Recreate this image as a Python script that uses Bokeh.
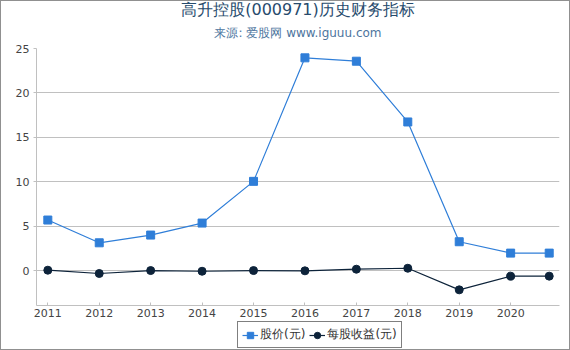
from bokeh.plotting import figure
from bokeh.models import FixedTicker, Legend, LegendItem, Title, Range1d
from bokeh.layouts import column
from bokeh.embed import file_html
from bokeh.resources import INLINE

# ---- data ----
years = [2011, 2012, 2013, 2014, 2015, 2016, 2017, 2018, 2019, 2020, 2020.75]
price = [5.71, 3.15, 4.02, 5.37, 10.06, 23.95, 23.57, 16.74, 3.27, 1.99, 1.99]
eps = [0.07, -0.30, 0.03, -0.05, 0.03, 0.00, 0.18, 0.29, -2.14, -0.60, -0.60]
x_ticks = [2011, 2012, 2013, 2014, 2015, 2016, 2017, 2018, 2019, 2020]
y_ticks = [0, 5, 10, 15, 20, 25]
title_text = "高升控股(000971)历史财务指标"
subtitle_text = "来源: 爱股网 www.iguuu.com"
series_names = ["股价(元)", "每股收益(元)"]

FONT = "DejaVu Sans"
blue = "#2f7ed8"
dark = "#0d233a"

p = figure(width=568, height=320, output_backend="svg", toolbar_location=None,
           x_range=Range1d(2010.78, 2020.95), y_range=Range1d(-3.9, 25),
           min_border_left=35, min_border_right=10, min_border_top=47, min_border_bottom=16)
p.title = None
p.outline_line_color = None
p.background_fill_color = "white"
p.border_fill_color = "white"

sub = Title(text=subtitle_text, align="center", text_font=FONT, text_font_size="12px",
            text_font_style="normal", text_color="#4d759e", standoff=18, text_line_height=1.0)
main = Title(text=title_text, align="center", text_font=FONT, text_font_size="16px",
             text_font_style="normal", text_color="#274b6d", standoff=-8, text_line_height=1.0)
p.add_layout(sub, "above")
p.add_layout(main, "above")

# axes
p.xaxis.ticker = FixedTicker(ticks=x_ticks)
p.yaxis.ticker = FixedTicker(ticks=y_ticks)
for ax in (p.xaxis[0], p.yaxis[0]):
    ax.major_label_text_font = FONT
    ax.major_label_text_font_size = "11px"
    ax.major_label_text_color = "#444444"
    ax.axis_line_color = "#C0C0C0"
    ax.major_tick_line_color = "#C0C0C0"
    ax.minor_tick_line_color = None
p.xaxis.major_tick_in = 3
p.xaxis.major_tick_out = 0
p.xaxis.major_label_standoff = 3
p.yaxis.major_tick_in = 0
p.yaxis.major_tick_out = 3
p.yaxis.major_label_standoff = 4

p.xgrid.grid_line_color = None
p.ygrid.grid_line_color = "#C0C0C0"
p.ygrid.ticker = FixedTicker(ticks=y_ticks)

l1 = p.line(years, price, line_color=blue, line_width=1.2)
m1 = p.scatter(years, price, marker="square", size=8, fill_color=blue, line_color=blue)
l2 = p.line(years, eps, line_color=dark, line_width=1.2)
m2 = p.scatter(years, eps, marker="circle", size=8, fill_color=dark, line_color=dark)

# legend strip below the chart (separate figure so the legend is not clipped);
# its renderers use the same data but lie outside this strip's ranges.
lf = figure(width=568, height=28, output_backend="svg", toolbar_location=None,
            x_range=Range1d(0, 1), y_range=Range1d(100, 101),
            x_axis_location=None, y_axis_location=None,
            min_border=0, min_border_left=0, min_border_right=0,
            min_border_top=0, min_border_bottom=0)
lf.title = None
lf.grid.visible = False
lf.outline_line_color = None
lf.border_fill_color = "white"
lf.background_fill_color = "white"
dl1 = lf.line(years, price, line_color=blue, line_width=1.2)
dm1 = lf.scatter(years, price, marker="square", size=8, fill_color=blue, line_color=blue)
dl2 = lf.line(years, eps, line_color=dark, line_width=1.2)
dm2 = lf.scatter(years, eps, marker="circle", size=8, fill_color=dark, line_color=dark)

legend = Legend(items=[LegendItem(label=series_names[0], renderers=[dl1, dm1]),
                       LegendItem(label=series_names[1], renderers=[dl2, dm2])],
                orientation="horizontal", location=(201, 1),
                label_text_font=FONT, label_text_font_size="12px", label_text_color="#333333",
                border_line_color="black", border_line_width=1, background_fill_color="white",
                padding=4, spacing=4, margin=0, glyph_width=16, glyph_height=16,
                label_standoff=2, label_height=16)
lf.add_layout(legend, "center")

layout = column(p, lf, spacing=0)
layout.styles = {"border": "1px solid #909090"}

open("out.html", "w").write(file_html(layout, INLINE))
